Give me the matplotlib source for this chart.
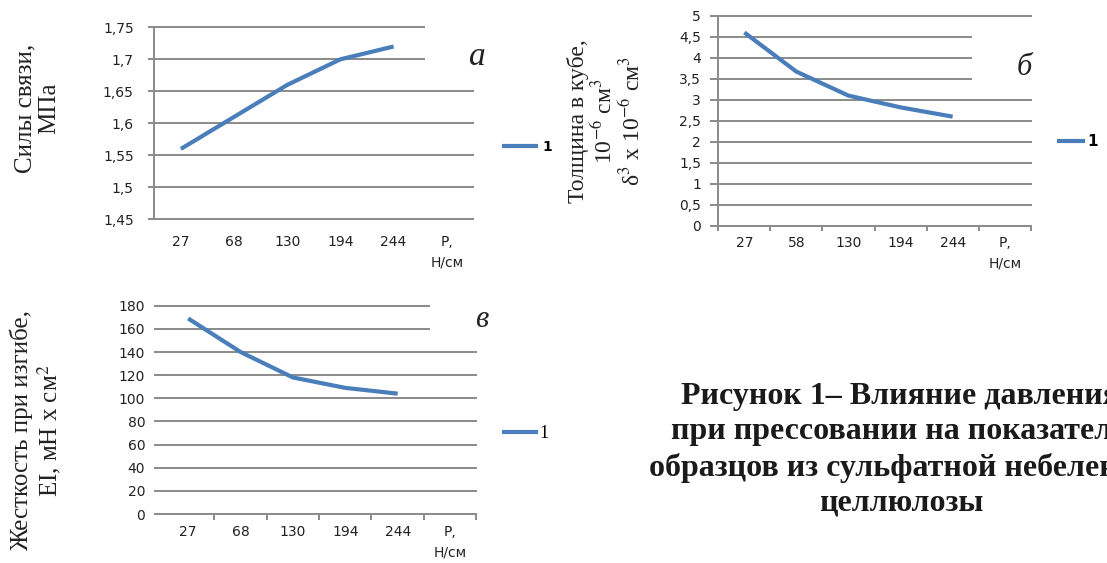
"""
Рисунок 1 - влияние давления при прессовании на показатели образцов
"""
import matplotlib
matplotlib.use('Agg')
import matplotlib.pyplot as plt
from matplotlib.patches import Rectangle
from matplotlib import transforms

plt.rcParams['font.family'] = ['DejaVu Sans']
plt.rcParams['mathtext.fontset'] = 'stix'

# категории по оси X (давление, Н/см)
cats_a = ['27', '68', '130', '194', '244', 'Р,\nН/см']
cats_b = ['27', '58', '130', '194', '244', 'Р,\nН/см']
cats_c = ['27', '68', '130', '194', '244', 'Р,\nН/см']

# значения рядов
bond = [1.56, 1.61, 1.66, 1.70, 1.72]      # силы связи, МПа
thick = [4.60, 3.67, 3.10, 2.82, 2.60]     # толщина в кубе
stiff = [169, 140, 118, 109, 104]          # жесткость при изгибе

# деления оси Y
yticks_a = [1.45, 1.5, 1.55, 1.6, 1.65, 1.7, 1.75]
ylabels_a = ['1,45', '1,5', '1,55', '1,6', '1,65', '1,7', '1,75']
yticks_b = [0, 0.5, 1, 1.5, 2, 2.5, 3, 3.5, 4, 4.5, 5]
ylabels_b = ['0', '0,5', '1', '1,5', '2', '2,5', '3', '3,5', '4', '4,5', '5']
yticks_c = [0, 20, 40, 60, 80, 100, 120, 140, 160, 180]
ylabels_c = ['0', '20', '40', '60', '80', '100', '120', '140', '160', '180']

GRID = '#8a8a8a'
BLUE = '#4a7ebb'
SERIF = ['Liberation Serif', 'DejaVu Serif']

fig = plt.figure(figsize=(11.07, 5.63), dpi=100)


def make_chart(rect, cats, values, yticks, ylabels, ytick_len, ypad, xpad,
               xtick_len, left_spine, mask):
    ax = fig.add_axes(rect)
    x = list(range(len(values)))
    line, = ax.plot(x, values, color=BLUE, linewidth=3, zorder=3,
                    solid_capstyle='butt')
    ax.set_xlim(-0.5, len(cats) - 0.5)
    ax.set_ylim(yticks[0], yticks[-1])

    ax.set_yticks(yticks)
    ax.set_yticklabels(ylabels)
    ax.set_xticks(range(len(cats)))
    ax.set_xticklabels(cats)
    for lbl in ax.get_xticklabels():
        lbl.set_linespacing(1.6)

    for s in ax.spines.values():
        s.set_visible(False)
    if left_spine:
        ax.spines['left'].set_visible(True)
        ax.spines['left'].set_color(GRID)
        ax.spines['left'].set_linewidth(1.4)
        if xtick_len:
            ax.spines['left'].set_bounds(yticks[0], yticks[-1])

    ax.set_axisbelow(True)
    ax.yaxis.grid(True, color=GRID, linewidth=1.4)
    for gl in ax.get_ygridlines():
        gl.set_clip_on(False)

    ax.tick_params(axis='y', length=ytick_len, width=1.4, color=GRID,
                   pad=ypad, labelsize=10, labelcolor='#222222')
    ax.tick_params(axis='x', which='major', length=0, pad=xpad,
                   labelsize=10, labelcolor='#222222')
    if xtick_len:
        ax.set_xticks([i + 0.5 for i in range(-1, len(cats))], minor=True)
        ax.tick_params(axis='x', which='minor', length=xtick_len, width=1.4,
                       color=GRID, direction='out')

    # белая подложка под буквой (обрезает верхние линии сетки)
    trans = transforms.blended_transform_factory(ax.transAxes, ax.transData)
    ax.add_patch(Rectangle((mask[0], mask[1]), 0.2, mask[2] - mask[1],
                           transform=trans, facecolor='white',
                           edgecolor='none', zorder=1, clip_on=False))
    return ax, line


# а - силы связи
ax1, l1 = make_chart([0.1394, 0.6105, 0.2882, 0.3410], cats_a, bond,
                     yticks_a, ylabels_a, 4.3, 10.5, 11, 0, True,
                     (0.849, 1.68, 1.76))
ax1.legend([l1], ['1'], loc='center left', bbox_to_anchor=(1.089, 0.378),
           frameon=False, handlelength=2.63, handletextpad=0.3,
           borderpad=0, borderaxespad=0,
           prop={'size': 10, 'weight': 'bold'})

# б - толщина в кубе
ax2, l2 = make_chart([0.6489, 0.5986, 0.2822, 0.3735], cats_b, thick,
                     yticks_b, ylabels_b, 5.5, 7, 7, 3.4, True,
                     (0.811, 3.2, 4.75))
ax2.legend([l2], ['1'], loc='center left', bbox_to_anchor=(1.083, 0.401),
           frameon=False, handlelength=1.85, handletextpad=0.15,
           borderpad=0, borderaxespad=0,
           prop={'size': 11, 'weight': 'bold'})

# в - жесткость при изгибе
ax3, l3 = make_chart([0.1463, 0.0870, 0.2839, 0.3700], cats_c, stiff,
                     yticks_c, ylabels_c, 5.5, 6.5, 8, 4.3, False,
                     (0.853, 145, 186))
ax3.xaxis.get_minor_ticks()[0].tick1line.set_visible(False)
ax3.legend([l3], ['1'], loc='center left', bbox_to_anchor=(1.081, 0.387),
           frameon=False, handlelength=2.03, handletextpad=0.05,
           borderpad=0, borderaxespad=0,
           prop={'family': SERIF, 'size': 13})

# подписи осей Y
fig.text(0.0339, 0.8082, 'Силы связи,\nМПа', rotation=90, ha='center',
         va='center', multialignment='center', family=SERIF, fontsize=18,
         color='#222222', linespacing=1.1)
fig.text(0.5474, 0.785,
         'Толщина в кубе,\n10$^{-6}$ см$^{3}$\nδ$^{3}$ х 10$^{-6}$ см$^{3}$',
         rotation=90, ha='center', va='center', multialignment='center',
         family=SERIF, fontsize=17, color='#222222', linespacing=1.12)
fig.text(0.0325, 0.2345, 'Жесткость при изгибе,\nEI, мН х см$^{2}$',
         rotation=90, ha='center', va='center', multialignment='center',
         family=SERIF, fontsize=18, color='#222222', linespacing=1.1)

# буквенные обозначения
fig.text(0.4313, 0.8845, 'а', ha='center', va='baseline', family=SERIF,
         style='italic', fontsize=24, color='#222222')
fig.text(0.925, 0.8668, 'б', ha='center', va='baseline', family=SERIF,
         style='italic', fontsize=22, color='#222222')
fig.text(0.4354, 0.4192, 'в', ha='center', va='baseline', family=SERIF,
         style='italic', fontsize=22, color='#222222')

# подпись рисунка (обрезается правым краем, как в оригинале)
fig.text(0.8139, 0.2007,
         'Рисунок 1– Влияние давления\nпри прессовании на показатели\n'
         'образцов из сульфатной небеленой\nцеллюлозы',
         ha='center', va='center', multialignment='center', family=SERIF,
         fontsize=23, fontweight='bold', color='#1a1a1a', linespacing=1.27)

plt.savefig('out.png', dpi=100)
